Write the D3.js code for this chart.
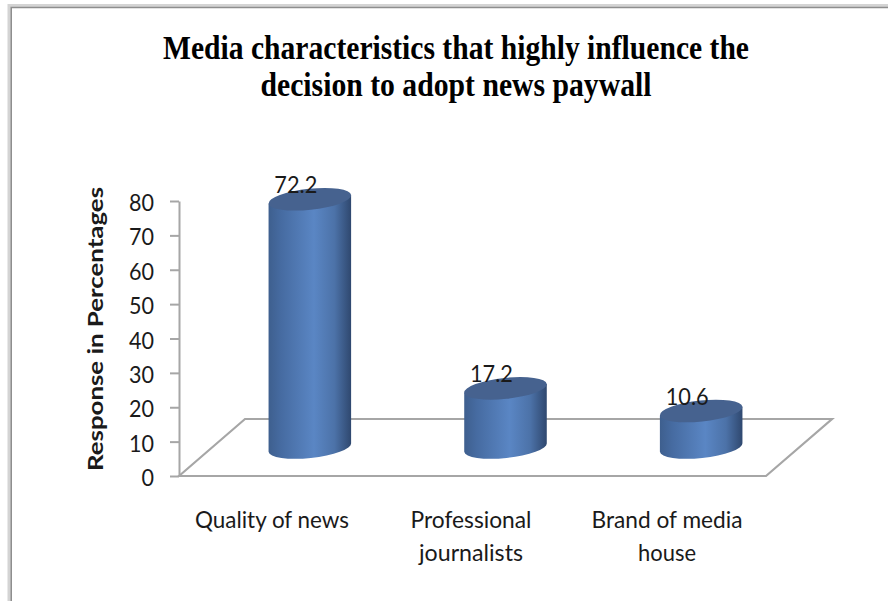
<!DOCTYPE html>
<html>
<head>
<meta charset="utf-8">
<script src="https://cdn.jsdelivr.net/npm/d3@7"></script>
<style>
  html, body { margin: 0; padding: 0; background: #fff; }
  svg { display: block; }
  text { fill: #1a1a1a; }
</style>
</head>
<body>
<svg id="chart" width="888" height="601"></svg>
<script>
const categories = [["Quality of news"], ["Professional", "journalists"], ["Brand of media", "house"]];
const values = [72.2, 17.2, 10.6];
const yTicks = [0, 10, 20, 30, 40, 50, 60, 70, 80];
const titleLines = ["Media characteristics that highly influence the", "decision to adopt news paywall"];
const yLabel = "Response in Percentages";

const svg = d3.select("#chart");
const keys = categories.map(d => d.join(" "));

// Oblique floor: the front edge sits on the axis, the back edge is pushed up and right.
const frontX = [179, 766], depthX = 66, depthY = 57;
const y = d3.scaleLinear().domain([0, 80]).range([476, 201]);
const xFront = d3.scaleBand().domain(keys).range(frontX);
const xMid = d3.scaleBand().domain(keys).range([frontX[0] + depthX / 2, frontX[1] + depthX / 2]);

// Chart frame: a pale outer band with a darker inner line
svg.append("rect").attr("x", 0).attr("y", 0).attr("width", 888).attr("height", 601).attr("fill", "#fff");
svg.append("path").attr("d", "M9,601V5.5H888").attr("fill", "none").attr("stroke", "#d4d4d4").attr("stroke-width", 3);
svg.append("path").attr("d", "M11.2,601V7.5H888").attr("fill", "none").attr("stroke", "#8e8e8e").attr("stroke-width", 1.6);

// Title, condensed to fit its measured width
const titleWidths = [586, 391];
svg.selectAll("text.title").data(titleLines).join("text")
  .attr("class", "title")
  .attr("x", 456).attr("y", (d, i) => 59 + i * 37)
  .attr("text-anchor", "middle")
  .attr("textLength", (d, i) => titleWidths[i])
  .attr("lengthAdjust", "spacingAndGlyphs")
  .style("font", "bold 34px 'Liberation Serif'")
  .style("fill", "#000")
  .text(d => d);

// Floor
const floorY = y(0), backY = floorY - depthY;
svg.append("path")
  .attr("d", `M${frontX[0]},${floorY}L${frontX[0] + depthX},${backY}H${frontX[1] + depthX}L${frontX[1]},${floorY}Z`)
  .attr("fill", "none").attr("stroke", "#a6a6a6").attr("stroke-width", 2.2);

// Vertical axis
const axisG = svg.append("g").attr("transform", `translate(${frontX[0]},0)`);
axisG.call(d3.axisLeft(y).tickValues(yTicks).tickSize(9).tickSizeOuter(0).tickPadding(16));
axisG.select(".domain").attr("stroke", "#a6a6a6").attr("stroke-width", 2);
axisG.selectAll(".tick line").attr("stroke", "#a6a6a6").attr("stroke-width", 2);
axisG.selectAll(".tick text")
  .style("font", "24px Lato").style("fill", "#1a1a1a").attr("dy", "0.40em")
  .attr("textLength", d => d ? 25 : 12.5).attr("lengthAdjust", "spacingAndGlyphs");

svg.append("text")
  .attr("transform", "translate(103,329) rotate(-90)")
  .attr("text-anchor", "middle")
  .attr("textLength", 284).attr("lengthAdjust", "spacingAndGlyphs")
  .style("font", "bold 21px Lato")
  .text(yLabel);

// Cylinder shading
const defs = svg.append("defs");
const grad = defs.append("linearGradient").attr("id", "side").attr("x1", 0).attr("x2", 1).attr("y1", 0).attr("y2", 0);
[[0, "#3e5f8e"], [0.15, "#466ba1"], [0.55, "#5a86c4"], [0.8, "#4c72a8"], [1, "#2f486f"]]
  .forEach(([o, c]) => grad.append("stop").attr("offset", o).attr("stop-color", c));

// Cylinders: an elliptical top tilted slightly by the oblique view
const rx = 41.5, ry = 10.5, tilt = -6;
const dx = rx * Math.cos(tilt * Math.PI / 180), dy = rx * Math.sin(tilt * Math.PI / 180);
const baseY = y(0) - 28.5;
const scaleH = y(0) - y(1);
const centre = i => xMid(keys[i]) + xMid.bandwidth() / 2;
const bars = svg.selectAll("g.bar").data(values).join("g").attr("class", "bar");

bars.append("path")
  .attr("fill", "url(#side)")
  .attr("d", (d, i) => {
    const cx = centre(i);
    const top = baseY - d * scaleH;
    return `M${cx - dx},${top - dy}L${cx + dx},${top + dy}` +
           `L${cx + dx},${baseY + dy}A${rx},${ry} ${tilt} 0 1 ${cx - dx},${baseY - dy}Z`;
  });

bars.append("ellipse")
  .attr("fill", "#46628f")
  .attr("rx", rx).attr("ry", ry)
  .attr("transform", (d, i) => `translate(${centre(i)},${baseY - d * scaleH}) rotate(${tilt})`);

// Value labels
bars.append("text")
  .attr("x", (d, i) => centre(i) - 14)
  .attr("y", d => baseY - d * scaleH - 6)
  .attr("text-anchor", "middle")
  .attr("textLength", 43).attr("lengthAdjust", "spacingAndGlyphs")
  .style("font", "24px Lato")
  .text(d => d);

// Category labels, one text element per wrapped line
const categoryWidths = [[154], [121, 104], [151, 58]];
const categoryCentres = [272, 471, 667];
const categoryLines = categories.flatMap((lines, i) => lines.map((t, j) => ({ t, i, j })));
svg.selectAll("text.cat").data(categoryLines).join("text")
  .attr("class", "cat")
  .attr("x", d => categoryCentres[d.i])
  .attr("y", d => 528 + d.j * 33)
  .attr("text-anchor", "middle")
  .attr("textLength", d => categoryWidths[d.i][d.j])
  .attr("lengthAdjust", "spacingAndGlyphs")
  .style("font", "24px Lato")
  .text(d => d.t);
</script>
</body>
</html>
